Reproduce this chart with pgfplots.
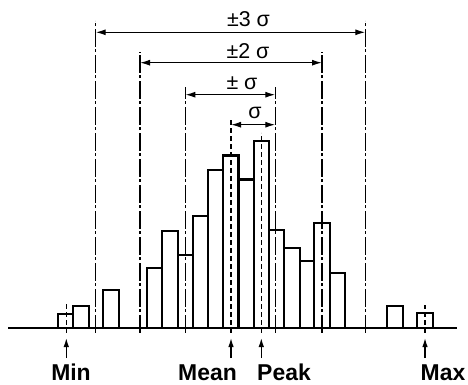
\documentclass[border=0pt]{standalone}
\usepackage{fontspec}
\setmainfont{Liberation Sans}
\usepackage{pgfplots}
\pgfplotsset{compat=1.18}
\usetikzlibrary{arrows.meta}
\begin{document}
\begin{tikzpicture}
\begin{axis}[width=468bp,height=385bp,scale only axis,
  xmin=0,xmax=468,ymin=-56.7,ymax=328.3,hide axis,clip=false]
% bars
\addplot[ybar interval, fill=white, draw=black, line width=2.1bp] coordinates {(58.3,14) (73.3,22.6) (89,0)};
\addplot[ybar interval, fill=white, draw=black, line width=2.1bp] coordinates {(103.3,38.3) (119,0)};
\addplot[ybar interval, fill=white, draw=black, line width=2.1bp] coordinates {
(146.7,60) (162.3,97) (177.7,73.6) (192.7,112) (208.3,158) (223.3,172.8) (238.5,148.8)
(253.8,187.1) (269,98.3) (284.3,80.6) (299.7,67.6) (314.3,105.3) (330,55.6) (345.3,0)};
\addplot[ybar interval, fill=white, draw=black, line width=2.1bp] coordinates {(387.3,22.6) (402.7,0)};
\addplot[ybar interval, fill=white, draw=black, line width=2.1bp] coordinates {(417.3,15.6) (433,0)};
% baseline
\addplot[black, line width=2.1bp, mark=none] coordinates {(8.3,0) (457.3,0)};
% dash-dot sigma lines
\pgfplotsset{dd/.style={black, line width=1.4bp, mark=none, dash pattern=on 18bp off 2.5bp on 3bp off 2.5bp}}
\addplot[dd] coordinates {(95.7,-4.4) (95.7,307.6)};
\addplot[dd] coordinates {(365.3,-4.4) (365.3,307.6)};
\addplot[dd] coordinates {(140,-4.4) (140,276.6)};
\addplot[dd] coordinates {(322,-4.4) (322,276.6)};
\addplot[dd] coordinates {(185.3,-4.4) (185.3,241.6)};
\addplot[dd] coordinates {(275.3,-4.4) (275.3,241.6)};
% dashed lines
\pgfplotsset{ds/.style={black, line width=1.3bp, mark=none, dash pattern=on 5bp off 3bp}}
\addplot[ds] coordinates {(231,-4.4) (231,208.3)};
\addplot[ds] coordinates {(261.3,-4.4) (261.3,195.6)};
\addplot[ds] coordinates {(66.3,-4.4) (66.3,25)};
\addplot[ds] coordinates {(425,-4.4) (425,23.3)};
% dimension arrows
\pgfplotsset{da/.style={black, line width=1.3bp, mark=none, {Latex[length=10bp,width=6bp]}-{Latex[length=10bp,width=6bp]}}}
\addplot[da] coordinates {(95.7,296) (365.3,296)};
\addplot[da] coordinates {(140,265.6) (322,265.6)};
\addplot[da] coordinates {(185.3,233.6) (275.3,233.6)};
\addplot[da] coordinates {(231,203.6) (275.3,203.6)};
% pointer arrows
\pgfplotsset{pa/.style={black, line width=1.3bp, mark=none, -{Latex[length=9bp,width=5.5bp]}}}
\addplot[pa] coordinates {(66.3,-29.7) (66.3,-9.7)};
\addplot[pa] coordinates {(231,-29.7) (231,-9.7)};
\addplot[pa] coordinates {(261.3,-29.7) (261.3,-9.7)};
\addplot[pa] coordinates {(425,-29.7) (425,-9.7)};
% labels
\node[anchor=base, inner sep=0pt, font=\fontsize{21.5}{25}\selectfont] at (axis cs:248.5,301.6) {±3 σ};
\node[anchor=base, inner sep=0pt, font=\fontsize{21.5}{25}\selectfont] at (axis cs:248,269.5) {±2 σ};
\node[anchor=base, inner sep=0pt, font=\fontsize{21.5}{25}\selectfont] at (axis cs:242,239) {± σ};
\node[anchor=base, inner sep=0pt, font=\fontsize{21.5}{25}\selectfont] at (axis cs:255,210) {σ};
\node[anchor=base, inner sep=0pt, font=\fontsize{23}{27}\selectfont\bfseries] at (axis cs:71,-51.7) {Min};
\node[anchor=base, inner sep=0pt, font=\fontsize{23}{27}\selectfont\bfseries] at (axis cs:207.5,-51.7) {Mean};
\node[anchor=base, inner sep=0pt, font=\fontsize{23}{27}\selectfont\bfseries] at (axis cs:284,-51.7) {Peak};
\node[anchor=base, inner sep=0pt, font=\fontsize{23}{27}\selectfont\bfseries] at (axis cs:443,-51.7) {Max};
\end{axis}
\pgfresetboundingbox
\path[use as bounding box] (current axis.south west) rectangle (current axis.north east);
\end{tikzpicture}
\end{document}
